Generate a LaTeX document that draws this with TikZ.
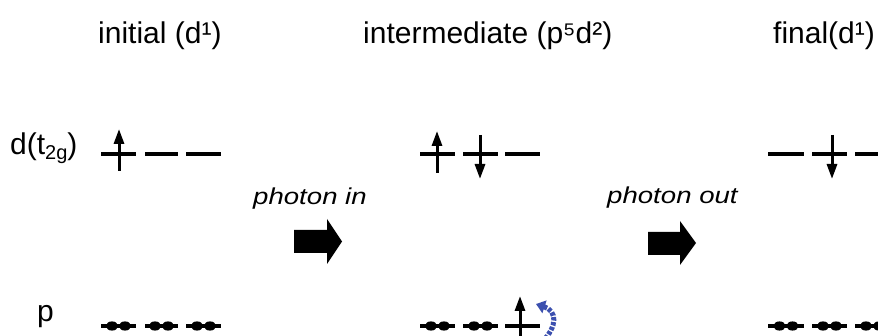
\documentclass[tikz,border=0pt]{standalone}
\usepackage{fontspec}
\setmainfont{Liberation Sans}
\usetikzlibrary{arrows.meta}
\definecolor{spinblue}{RGB}{60,80,175}
\begin{document}
\begin{tikzpicture}[x=1pt,y=-1pt,
  lbl/.style={anchor=base west, inner sep=0pt, font=\fontsize{30}{36}\selectfont},
  ptxt/.style={anchor=base west, inner sep=0pt, font=\fontsize{23}{27}\selectfont\itshape},
  level/.style={line width=3.2pt},
  spin/.style={line width=3pt, -{Triangle[length=15pt,width=10pt]}},
  blockarrow/.style={fill=black},
  hole/.style={spinblue, line width=5pt, dash pattern=on 3.5pt off 1.5pt, -{Triangle[length=9pt,width=13pt]}}
]
\useasboundingbox (0,0) rectangle (878,336);
\clip (0,0) rectangle (878,336);
\fill[white] (0,0) rectangle (878,336);

% titles
\node[lbl] (tini) at (98,44) {initial (d¹)};
\node[lbl] (tint) at (363,44) {intermediate (p⁵d²)};
\node[lbl] (tfin) at (773,44) {final(d¹)};

% row labels
\node[lbl] (ld) at (10,155) {d(t\raisebox{-0.3ex}{\fontsize{20}{22}\selectfont 2g})};
\node[lbl] (lp) at (37,322) {p};

% photon labels
\node[ptxt] (pin) at (253,205) {\scalebox{1.2}[1]{photon in}};
\node[ptxt] (pout) at (607,204) {\scalebox{1.2}[1]{photon out}};

% block arrows
\fill[blockarrow] (294,230) -- (327,230) -- (327,219) -- (342,241.5) -- (327,264) -- (327,253) -- (294,253) -- cycle;
\fill[blockarrow] (648,232) -- (680,232) -- (680,221) -- (696,243) -- (680,265) -- (680,255) -- (648,255) -- cycle;

% d levels
\foreach \a/\b in {101/136,145/178,186/221,420/455,463/498,505/540,768/804,812/847,855/890}
  \draw[level] (\a,154) -- (\b,154);
% p levels
\foreach \a/\b in {101/136,145/178,186/221,420/455,463/498,505/540,768/804,812/847,855/890}
  \draw[level] (\a,326) -- (\b,326);

% paired electrons (dots)
\foreach \c in {118.5,161.5,203.5,437.5,480.5,786,829.5,872.5}{
  \fill (\c-6.5,326) ellipse [x radius=6, y radius=4.6];
  \fill (\c+6.5,326) ellipse [x radius=6, y radius=4.6];
}

% spins in d
\draw[spin] (119,171) -- (119,129);
\draw[spin] (437,173) -- (437,131);
\draw[spin] (480,135) -- (480,179);
\draw[spin] (832,135) -- (832,179);

% spin in p (intermediate)
\draw[spin] (520,345) -- (520,296);

% hole / blue curved arrow
\draw[hole] (542,342) .. controls (558,326) and (557,311) .. (536,304);
\end{tikzpicture}
\end{document}
